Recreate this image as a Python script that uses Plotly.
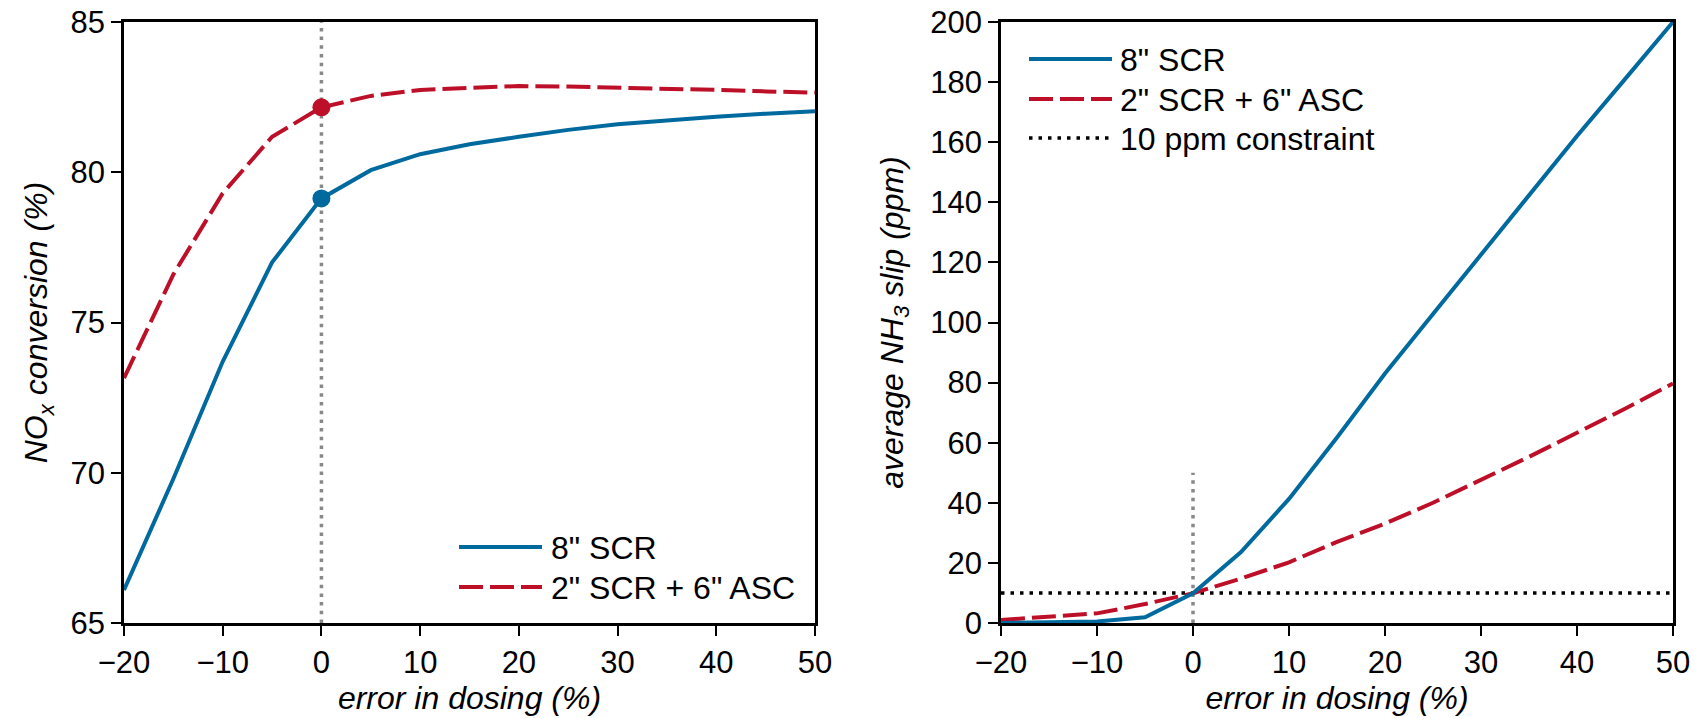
import plotly.graph_objects as go

# ---------------- data ----------------
dosing_error = [-20, -15, -10, -5, 0, 5, 10, 15, 20, 25, 30, 35, 40, 45, 50]
nox_scr = [66.1, 69.8, 73.7, 77.0, 79.13, 80.07, 80.6, 80.93, 81.18, 81.41, 81.6, 81.74, 81.85, 81.95, 82.03]
nox_asc = [73.15, 76.6, 79.3, 81.18, 82.16, 82.54, 82.74, 82.82, 82.87, 82.85, 82.82, 82.78, 82.74, 82.69, 82.65]
slip_scr = [0.0, 0.2, 0.5, 1.9, 9.9, 23.6, 41.3, 61.7, 83.0, 102.8, 122.5, 142.3, 162.1, 181.0, 200.0]
slip_asc = [1.0, 2.0, 3.2, 6.3, 9.9, 14.8, 20.2, 27.0, 33.1, 40.0, 47.6, 55.3, 63.3, 71.3, 79.7]
constraint_x = [-20, 50]
constraint_y = [10, 10]
nominal_x = [0, 0]
nominal_nox_y = [65, 85]
nominal_slip_y = [0, 50]
series_names = ['8" SCR', '2" SCR + 6" ASC', '10 ppm constraint']
x_ticks = [-20, -10, 0, 10, 20, 30, 40, 50]
nox_ticks = [65, 70, 75, 80, 85]
slip_ticks = [0, 20, 40, 60, 80, 100, 120, 140, 160, 180, 200]

# ---------------- style ----------------
W, H = 1706, 718
BLUE = "#006a9f"
RED = "#be0f29"
GRAY = "#888888"
FONT = "Liberation Sans, Arial, Helvetica, sans-serif"
LW = 4
DASH = "24px,7px"
DOT_GRAY = "3.5px,5.2px"
DOT_BLACK = "3.5px,6px"


def px(x):
    return x / W


def py(y):
    return 1 - y / H


fig = go.Figure()

# left panel
fig.add_trace(go.Scatter(x=nominal_x, y=nominal_nox_y, mode="lines",
                         line=dict(color=GRAY, width=3.5, dash=DOT_GRAY),
                         xaxis="x", yaxis="y", showlegend=False, hoverinfo="skip"))
fig.add_trace(go.Scatter(x=dosing_error, y=nox_scr, mode="lines", name=series_names[0],
                         line=dict(color=BLUE, width=LW), xaxis="x", yaxis="y", showlegend=False))
fig.add_trace(go.Scatter(x=dosing_error, y=nox_asc, mode="lines", name=series_names[1],
                         line=dict(color=RED, width=LW, dash=DASH), xaxis="x", yaxis="y", showlegend=False))
i0 = dosing_error.index(0)
fig.add_trace(go.Scatter(x=[dosing_error[i0]], y=[nox_scr[i0]], mode="markers",
                         marker=dict(color=BLUE, size=18), xaxis="x", yaxis="y", showlegend=False))
fig.add_trace(go.Scatter(x=[dosing_error[i0]], y=[nox_asc[i0]], mode="markers",
                         marker=dict(color=RED, size=18), xaxis="x", yaxis="y", showlegend=False))

# right panel
fig.add_trace(go.Scatter(x=nominal_x, y=nominal_slip_y, mode="lines",
                         line=dict(color=GRAY, width=3.5, dash=DOT_GRAY),
                         xaxis="x2", yaxis="y2", showlegend=False, hoverinfo="skip"))
fig.add_trace(go.Scatter(x=constraint_x, y=constraint_y, mode="lines", name=series_names[2],
                         line=dict(color="black", width=3.5, dash=DOT_BLACK),
                         xaxis="x2", yaxis="y2", showlegend=False))
fig.add_trace(go.Scatter(x=dosing_error, y=slip_asc, mode="lines", name=series_names[1],
                         line=dict(color=RED, width=LW, dash=DASH), xaxis="x2", yaxis="y2", showlegend=False))
fig.add_trace(go.Scatter(x=dosing_error, y=slip_scr, mode="lines", name=series_names[0],
                         line=dict(color=BLUE, width=LW), xaxis="x2", yaxis="y2", showlegend=False))

axis_common = dict(showline=True, linecolor="black", linewidth=2.5, mirror=True,
                   ticks="outside", ticklen=10, tickwidth=2, tickcolor="black",
                   showgrid=False, zeroline=False, automargin=False,
                   tickfont=dict(family=FONT, size=31, color="black"))
xtitle = dict(text="<i>error in dosing (%)</i>", font=dict(family=FONT, size=32, color="black"), standoff=8)

fig.update_layout(
    template="none",
    width=W, height=H,
    margin=dict(l=0, r=0, t=0, b=0),
    paper_bgcolor="white", plot_bgcolor="white",
    font=dict(family=FONT, color="black"),
    showlegend=False,
    xaxis=dict(domain=[px(124), px(815)], range=[-20, 50], tickvals=x_ticks,
               anchor="y", title=xtitle, **axis_common),
    yaxis=dict(domain=[py(623), py(22)], range=[65, 85], tickvals=nox_ticks, anchor="x",
               title=dict(text="<i>NO<sub>x</sub> conversion (%)</i>",
                          font=dict(family=FONT, size=32, color="black"), standoff=14),
               **axis_common),
    xaxis2=dict(domain=[px(1001), px(1673)], range=[-20, 50], tickvals=x_ticks,
                anchor="y2", title=xtitle, **axis_common),
    yaxis2=dict(domain=[py(623), py(22)], range=[0, 200], tickvals=slip_ticks, anchor="x2",
                title=dict(text="<i>average NH<sub>3</sub> slip (ppm)</i>",
                           font=dict(family=FONT, size=32, color="black"), standoff=18),
                **axis_common),
)

# manual legends (long line samples like the original)
legend_left = [(series_names[0], BLUE, None, 547), (series_names[1], RED, DASH, 587)]
legend_right = [(series_names[0], BLUE, None, 59), (series_names[1], RED, DASH, 99),
                (series_names[2], "black", DOT_BLACK, 138)]

for items, x0, x1, xt in [(legend_left, 459, 542, 549), (legend_right, 1029, 1112, 1118)]:
    for name, color, dash, yy in items:
        w = 3.5 if color == "black" else LW
        fig.add_shape(type="line", xref="paper", yref="paper",
                      x0=px(x0), x1=px(x1), y0=py(yy), y1=py(yy),
                      line=dict(color=color, width=w, dash=dash))
        fig.add_annotation(xref="paper", yref="paper", x=px(xt), y=py(yy + 1),
                           text=name, showarrow=False, xanchor="left", yanchor="middle",
                           font=dict(family=FONT, size=32, color="black"))

fig.write_html("out.html")
